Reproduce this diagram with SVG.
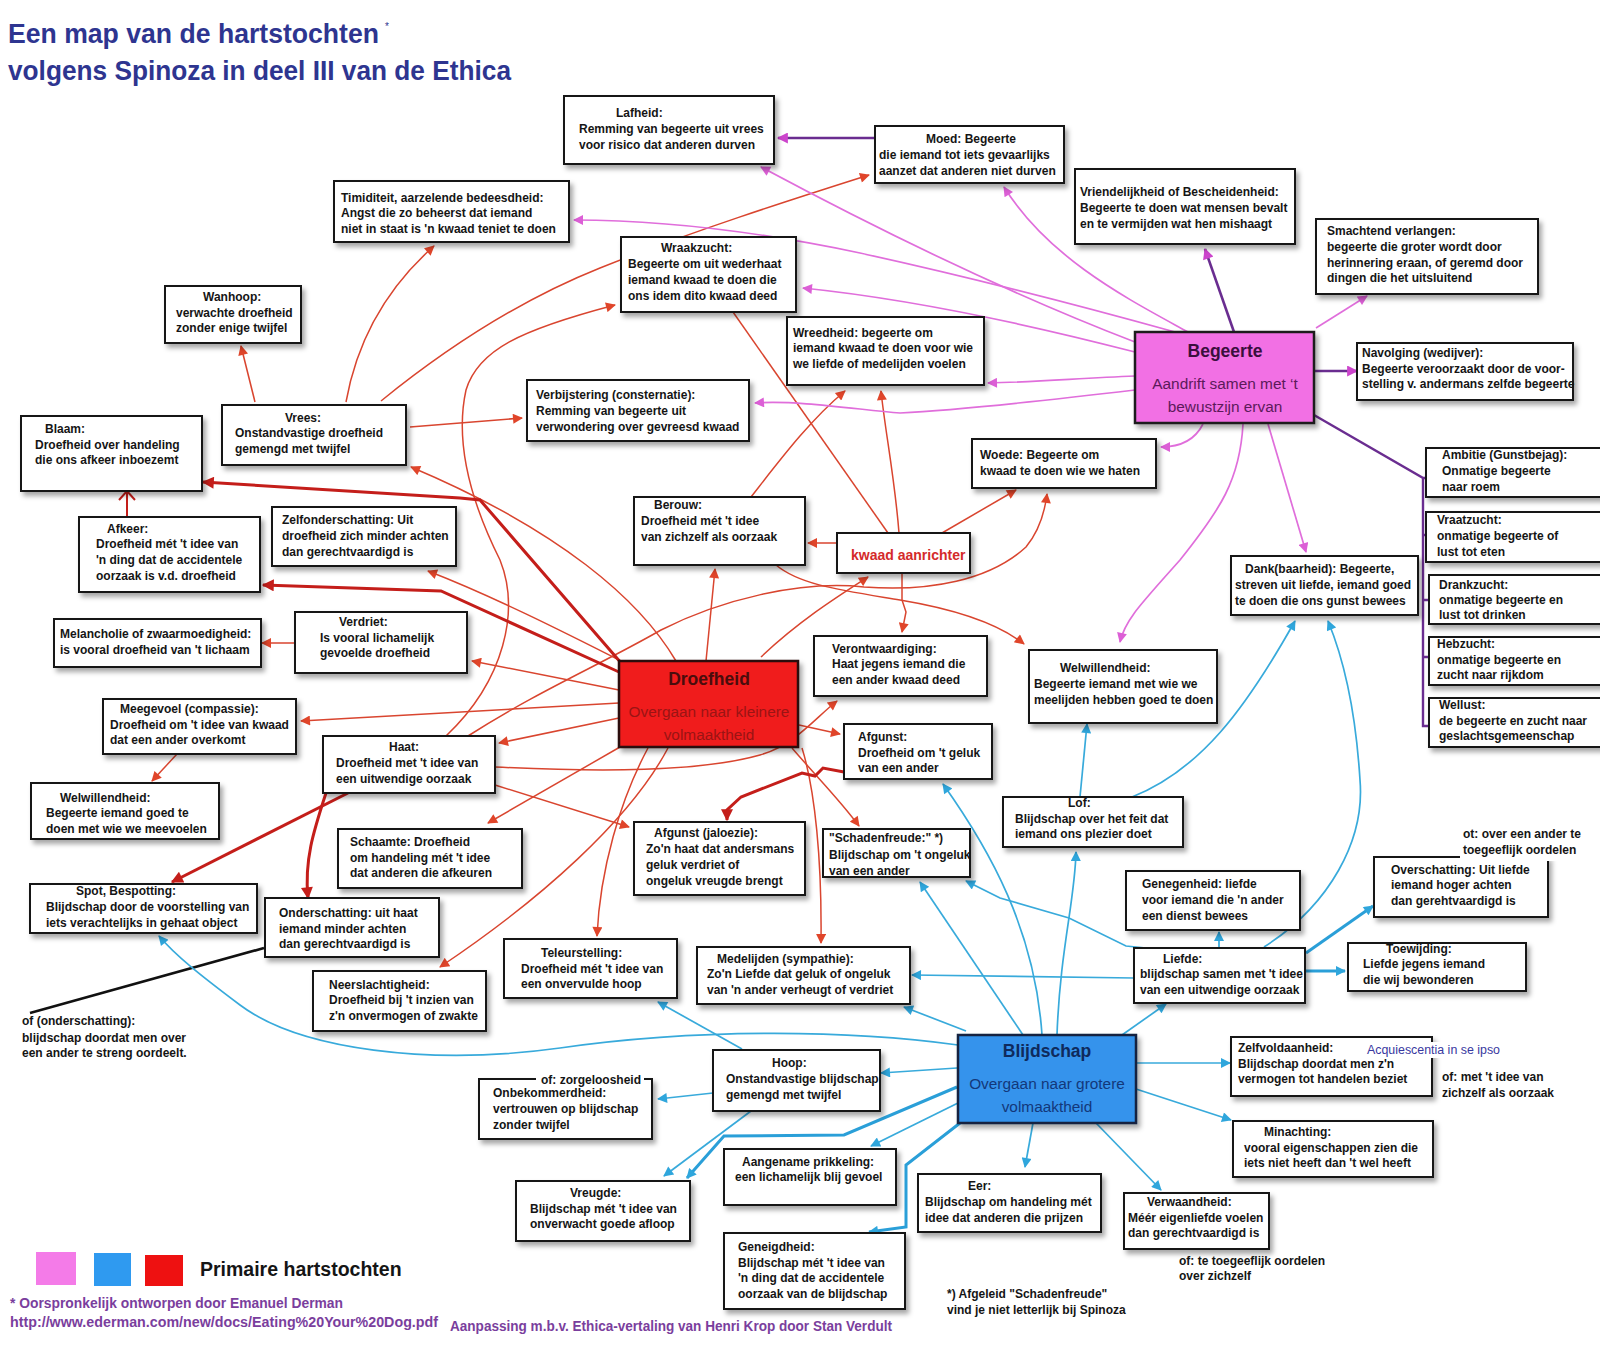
<svg xmlns="http://www.w3.org/2000/svg" width="1600" height="1347" viewBox="0 0 1600 1347">
<defs>
<style>
.box{fill:#fff;stroke:#151515;stroke-width:2;filter:url(#sh)}
.t{font-family:"Liberation Sans",Arial,sans-serif;font-size:12px;font-weight:bold;fill:#151515}
.r{stroke:#D9452F;stroke-width:1.5;fill:none;marker-end:url(#ar)}
.rt{stroke:#C41E1A;stroke-width:3;fill:none;marker-end:url(#ard)}
.b{stroke:#38AADB;stroke-width:1.7;fill:none;marker-end:url(#ab)}
.bt{stroke:#2A9FD8;stroke-width:3;fill:none;marker-end:url(#ab)}
.p{stroke:#E06EDB;stroke-width:1.7;fill:none;marker-end:url(#ap)}
.pu{stroke:#6A2D90;stroke-width:2.6;fill:none;marker-end:url(#apu)}
.big{font-family:"Liberation Sans",Arial,sans-serif;font-weight:bold;font-size:17.5px;text-anchor:middle}
.sub{font-family:"Liberation Sans",Arial,sans-serif;font-size:15.4px;text-anchor:middle}
.foot{font-family:"Liberation Sans",Arial,sans-serif;font-size:14px;font-weight:bold;fill:#7A3E9D}
</style>
<filter id="sh" x="-10%" y="-10%" width="130%" height="145%">
<feDropShadow dx="3" dy="4" stdDeviation="2.5" flood-color="#000" flood-opacity="0.35"/>
</filter>
<marker id="ar" viewBox="0 0 10 10" refX="9" refY="5" markerWidth="12" markerHeight="10" markerUnits="userSpaceOnUse" orient="auto"><path d="M0,0 L10,5 L0,10 z" fill="#E0452A"/></marker>
<marker id="ard" viewBox="0 0 10 10" refX="9" refY="5" markerWidth="14" markerHeight="12" markerUnits="userSpaceOnUse" orient="auto"><path d="M0,0 L10,5 L0,10 z" fill="#C41E1A"/></marker>
<marker id="ab" viewBox="0 0 10 10" refX="9" refY="5" markerWidth="12" markerHeight="10" markerUnits="userSpaceOnUse" orient="auto"><path d="M0,0 L10,5 L0,10 z" fill="#2FA6DC"/></marker>
<marker id="ap" viewBox="0 0 10 10" refX="9" refY="5" markerWidth="12" markerHeight="10" markerUnits="userSpaceOnUse" orient="auto"><path d="M0,0 L10,5 L0,10 z" fill="#DC5FD6"/></marker>
<marker id="apu" viewBox="0 0 10 10" refX="9" refY="5" markerWidth="13" markerHeight="11" markerUnits="userSpaceOnUse" orient="auto"><path d="M0,0 L10,5 L0,10 z" fill="#CC44CC"/></marker>
</defs>
<rect x="0" y="0" width="1600" height="1347" fill="#fff"/>

<g id="title">
<text x="8" y="43" font-family="Liberation Sans,Arial,sans-serif" font-weight="bold" font-size="27" fill="#2E3590" textLength="371" lengthAdjust="spacingAndGlyphs">Een map van de hartstochten</text>
<text x="385" y="30" font-family="Liberation Sans,Arial,sans-serif" font-size="10" fill="#2E3590">*</text>
<text x="8" y="80" font-family="Liberation Sans,Arial,sans-serif" font-weight="bold" font-size="27" fill="#2E3590" textLength="503" lengthAdjust="spacingAndGlyphs">volgens Spinoza in deel III van de Ethica</text>
</g>

<g id="connectors">
<!-- red thin -->
<path class="r" d="M255,402 L241,346"/>
<path class="r" d="M346,402 C358,335 390,285 434,246"/>
<path class="r" d="M381,401 C450,345 520,300 600,268 C690,232 790,200 869,175"/>
<path class="r" d="M410,427 L522,418"/>
<path class="r" d="M446,736 C505,680 520,610 500,560 C470,500 455,440 466,390 C478,350 520,330 615,305"/>
<path class="r" d="M676,661 C640,600 560,530 411,467"/>
<path class="r" d="M625,663 C560,630 490,595 428,571"/>
<path class="r" d="M619,690 L472,661"/>
<path class="r" d="M619,703 L301,721"/>
<path class="r" d="M619,718 L499,743"/>
<path class="r" d="M620,747 L488,823"/>
<path class="r" d="M648,748 C620,800 600,870 597,936"/>
<path class="r" d="M668,748 C630,820 540,900 440,967"/>
<path class="r" d="M495,785 L629,827"/>
<path class="r" d="M495,767 C600,772 700,772 760,755 C795,745 815,718 837,701"/>
<path class="r" d="M799,725 L840,734"/>
<path class="r" d="M792,748 C815,775 840,800 859,826"/>
<path class="r" d="M802,748 C815,790 822,860 821,943"/>
<path class="r" d="M706,661 L715,569"/>
<path class="r" d="M761,657 C800,620 840,595 868,577"/>
<path class="r" d="M468,736 C540,690 600,665 661,630 C720,600 800,580 864,587 C930,592 990,580 1026,547 C1040,530 1045,510 1047,494"/>
<path class="r" d="M751,497 C780,460 810,420 845,391"/>
<path class="r" d="M899,533 C895,480 885,430 881,391"/>
<path d="M733,312 L888,533" stroke="#D9452F" stroke-width="1.5" fill="none"/>
<path class="r" d="M837,543 L808,543"/>
<path class="r" d="M942,533 L1016,490"/>
<path class="r" d="M902,573 L902,600 L906,612 L902,632"/>
<path class="r" d="M776,565 C800,585 840,590 900,600 C960,610 1000,625 1024,644"/>
<path class="r" d="M295,643 L262,643"/>
<path class="r" d="M177,754 L152,781"/>
<path d="M127,517 L127,492 M119,500 L127,491 L135,500" stroke="#C41E1A" stroke-width="2" fill="none"/>
<!-- red thick -->
<path class="rt" d="M622,664 L480,500 L460,498 L203,482"/>
<path class="rt" d="M619,672 L441,591 L263,585"/>
<path class="rt" d="M348,793 L172,882"/>
<path class="rt" d="M326,793 C314,830 304,860 308,898"/>
<path class="rt" d="M844,772 L823,768 L815,776 L802,773 L741,797 L727,810 L727,820"/>
<!-- black -->
<path d="M264,948 L30,1013" stroke="#111" stroke-width="2.6" fill="none"/>
<!-- pink -->
<path class="p" d="M1188,332 C1130,300 1050,260 1004,187"/>
<path class="p" d="M1175,332 C1060,300 960,275 860,253 C760,232 660,220 574,220"/>
<path class="p" d="M1135,342 C1000,290 860,220 761,167"/>
<path class="p" d="M1135,352 C1050,330 920,300 803,288"/>
<path class="p" d="M1135,376 C1080,378 1040,382 988,383"/>
<path class="p" d="M1135,390 C1050,400 960,410 900,413 C860,410 800,400 755,403"/>
<path class="p" d="M1203,424 C1195,440 1180,447 1161,447"/>
<path class="p" d="M1268,424 L1306,552"/>
<path class="p" d="M1243,424 C1240,480 1220,510 1180,560 C1140,605 1125,620 1120,642"/>
<path class="p" d="M1316,328 L1367,296"/>
<!-- purple -->
<path class="pu" d="M875,138 L778,138"/>
<path class="pu" d="M1234,332 L1205,249"/>
<path class="pu" d="M1314,371 L1357,371" stroke-width="2"/>
<path d="M1314,415 L1423,478 L1423,726 L1429,726 M1423,478 L1427,478 M1423,535 L1428,535 M1423,600 L1429,600 M1423,657 L1429,657" stroke="#6A2D90" stroke-width="2.4" fill="none"/>
<!-- blue -->
<path class="b" d="M958,1045 C850,1030 700,1028 560,1048 C430,1066 300,1050 240,1005 C200,975 175,955 159,936"/>
<path class="b" d="M957,1068 L881,1073"/>
<path class="b" d="M713,1093 L658,1099"/>
<path class="b" d="M742,1049 L658,1002"/>
<path class="b" d="M751,1111 L664,1176"/>
<path class="bt" d="M957,1087 L844,1135 L724,1136 L687,1178"/>
<path class="b" d="M958,1103 L871,1146"/>
<path class="bt" d="M960,1123 L906,1165 L906,1227 L869,1232"/>
<path class="b" d="M1033,1123 L1025,1167"/>
<path class="b" d="M1096,1123 L1161,1190"/>
<path class="b" d="M1136,1089 L1231,1120"/>
<path class="b" d="M1136,1063 L1230,1063"/>
<path class="b" d="M1122,1035 L1166,1004"/>
<path class="b" d="M1057,1035 C1060,950 1075,900 1076,852"/>
<path class="b" d="M1042,1035 C1035,930 990,850 943,784"/>
<path class="b" d="M1023,1035 L920,882"/>
<path class="b" d="M966,1031 L904,1007"/>
<path class="b" d="M1134,978 L912,975"/>
<path class="b" d="M1146,948 L1126,946 L1069,918 L1000,898 L966,881"/>
<path class="b" d="M1219,948 L1219,932"/>
<path class="bt" d="M1306,953 L1373,906"/>
<path class="bt" d="M1305,971 L1345,971"/>
<path class="b" d="M1264,947 C1330,905 1365,840 1360,780 C1355,700 1340,650 1328,621"/>
<path class="b" d="M1132,797 C1200,770 1245,710 1295,621"/>
<path class="b" d="M1080,797 L1087,724"/>
</g>

<g id="lafheid"><rect class="box" x="564" y="96" width="210" height="68"/><text class="t"><tspan x="616" y="117">Lafheid:</tspan><tspan x="579" y="133">Remming van begeerte uit vrees</tspan><tspan x="579" y="149">voor risico dat anderen durven</tspan></text></g>
<g id="moed"><rect class="box" x="875" y="126" width="189" height="57"/><text class="t"><tspan x="926" y="143">Moed: Begeerte</tspan><tspan x="879" y="159">die iemand tot iets gevaarlijks</tspan><tspan x="879" y="175">aanzet dat anderen niet durven</tspan></text></g>
<g id="timiditeit"><rect class="box" x="334" y="181" width="235" height="61"/><text class="t"><tspan x="341" y="202">Timiditeit, aarzelende bedeesdheid:</tspan><tspan x="341" y="217">Angst die zo beheerst dat iemand</tspan><tspan x="341" y="233">niet in staat is 'n kwaad teniet te doen</tspan></text></g>
<g id="vriendelijkheid"><rect class="box" x="1075" y="169" width="220" height="75"/><text class="t"><tspan x="1080" y="196">Vriendelijkheid of Bescheidenheid:</tspan><tspan x="1080" y="212">Begeerte te doen wat mensen bevalt</tspan><tspan x="1080" y="228">en te vermijden wat hen mishaagt</tspan></text></g>
<g id="wraakzucht"><rect class="box" x="621" y="237" width="175" height="75"/><text class="t"><tspan x="661" y="252">Wraakzucht:</tspan><tspan x="628" y="268">Begeerte om uit wederhaat</tspan><tspan x="628" y="284">iemand kwaad te doen die</tspan><tspan x="628" y="300">ons idem dito kwaad deed</tspan></text></g>
<g id="smachtend"><rect class="box" x="1316" y="219" width="222" height="75"/><text class="t"><tspan x="1327" y="235">Smachtend verlangen:</tspan><tspan x="1327" y="251">begeerte die groter wordt door</tspan><tspan x="1327" y="267">herinnering eraan, of geremd door</tspan><tspan x="1327" y="282">dingen die het uitsluitend</tspan></text></g>
<g id="wanhoop"><rect class="box" x="165" y="286" width="136" height="57"/><text class="t"><tspan x="203" y="301">Wanhoop:</tspan><tspan x="176" y="317">verwachte droefheid</tspan><tspan x="176" y="332">zonder enige twijfel</tspan></text></g>
<g id="wreedheid"><rect class="box" x="787" y="317" width="197" height="68"/><text class="t"><tspan x="793" y="337">Wreedheid: begeerte om</tspan><tspan x="793" y="352">iemand kwaad te doen voor wie</tspan><tspan x="793" y="368">we liefde of medelijden voelen</tspan></text></g>
<g id="begeerte"><rect x="1135" y="332" width="179" height="91" fill="#F270E4" stroke="#1a1a1a" stroke-width="2.5" filter="url(#sh)"/><text class="big" x="1225" y="357" fill="#3a0f3d" font-size="17">Begeerte</text><text class="sub" fill="#5c1a5a"><tspan x="1225" y="389">Aandrift samen met ‘t</tspan><tspan x="1225" y="412">bewustzijn ervan</tspan></text></g>
<g id="navolging"><rect class="box" x="1357" y="343" width="216" height="57"/><text class="t"><tspan x="1362" y="357">Navolging (wedijver):</tspan><tspan x="1362" y="373">Begeerte veroorzaakt door de voor-</tspan><tspan x="1362" y="388">stelling v. andermans zelfde begeerte</tspan></text></g>
<g id="verbijstering"><rect class="box" x="527" y="380" width="222" height="61"/><text class="t"><tspan x="536" y="399">Verbijstering (consternatie):</tspan><tspan x="536" y="415">Remming van begeerte uit</tspan><tspan x="536" y="431">verwondering over gevreesd kwaad</tspan></text></g>
<g id="vrees"><rect class="box" x="222" y="405" width="184" height="60"/><text class="t"><tspan x="285" y="422">Vrees:</tspan><tspan x="235" y="437">Onstandvastige droefheid</tspan><tspan x="235" y="453">gemengd met twijfel</tspan></text></g>
<g id="blaam"><rect class="box" x="21" y="416" width="181" height="75"/><text class="t"><tspan x="45" y="433">Blaam:</tspan><tspan x="35" y="449">Droefheid over handeling</tspan><tspan x="35" y="464">die ons afkeer inboezemt</tspan></text></g>
<g id="woede"><rect class="box" x="972" y="439" width="184" height="49"/><text class="t"><tspan x="980" y="459">Woede: Begeerte om</tspan><tspan x="980" y="475">kwaad te doen wie we haten</tspan></text></g>
<g id="ambitie"><rect class="box" x="1426" y="448" width="190" height="49"/><text class="t"><tspan x="1442" y="459">Ambitie (Gunstbejag):</tspan><tspan x="1442" y="475">Onmatige begeerte</tspan><tspan x="1442" y="491">naar roem</tspan></text></g>
<g id="vraatzucht"><rect class="box" x="1426" y="512" width="190" height="50"/><text class="t"><tspan x="1437" y="524">Vraatzucht:</tspan><tspan x="1437" y="540">onmatige begeerte of</tspan><tspan x="1437" y="556">lust tot eten</tspan></text></g>
<g id="drankzucht"><rect class="box" x="1429" y="575" width="190" height="49"/><text class="t"><tspan x="1439" y="589">Drankzucht:</tspan><tspan x="1439" y="604">onmatige begeerte en</tspan><tspan x="1439" y="619">lust tot drinken</tspan></text></g>
<g id="hebzucht"><rect class="box" x="1429" y="637" width="190" height="48"/><text class="t"><tspan x="1437" y="648">Hebzucht:</tspan><tspan x="1437" y="664">onmatige begeerte en</tspan><tspan x="1437" y="679">zucht naar rijkdom</tspan></text></g>
<g id="wellust"><rect class="box" x="1429" y="698" width="190" height="49"/><text class="t"><tspan x="1439" y="709">Wellust:</tspan><tspan x="1439" y="725">de begeerte en zucht naar</tspan><tspan x="1439" y="740">geslachtsgemeenschap</tspan></text></g>
<g id="berouw"><rect class="box" x="634" y="497" width="171" height="68"/><text class="t"><tspan x="654" y="509">Berouw:</tspan><tspan x="641" y="525">Droefheid mét 't idee</tspan><tspan x="641" y="541">van zichzelf als oorzaak</tspan></text></g>
<g id="zelfonderschatting"><rect class="box" x="272" y="507" width="184" height="59"/><text class="t"><tspan x="282" y="524">Zelfonderschatting: Uit</tspan><tspan x="282" y="540">droefheid zich minder achten</tspan><tspan x="282" y="556">dan gerechtvaardigd is</tspan></text></g>
<g id="afkeer"><rect class="box" x="79" y="517" width="181" height="75"/><text class="t"><tspan x="107" y="533">Afkeer:</tspan><tspan x="96" y="548">Droefheid mét 't idee van</tspan><tspan x="96" y="564">'n ding dat de accidentele</tspan><tspan x="96" y="580">oorzaak is v.d. droefheid</tspan></text></g>
<g id="kwaad-aanrichter"><rect class="box" x="837" y="533" width="133" height="40"/><text x="851" y="560" font-family="Liberation Sans,Arial,sans-serif" font-size="14" font-weight="bold" fill="#D42A2A">kwaad aanrichter</text></g>
<g id="dank"><rect class="box" x="1231" y="556" width="187" height="59"/><text class="t"><tspan x="1245" y="573">Dank(baarheid): Begeerte,</tspan><tspan x="1235" y="589">streven uit liefde, iemand goed</tspan><tspan x="1235" y="605">te doen die ons gunst bewees</tspan></text></g>
<g id="melancholie"><rect class="box" x="54" y="619" width="207" height="48"/><text class="t"><tspan x="60" y="638">Melancholie of zwaarmoedigheid:</tspan><tspan x="60" y="654">is vooral droefheid van 't lichaam</tspan></text></g>
<g id="verdriet"><rect class="box" x="295" y="612" width="172" height="61"/><text class="t"><tspan x="339" y="626">Verdriet:</tspan><tspan x="320" y="642">Is vooral lichamelijk</tspan><tspan x="320" y="657">gevoelde droefheid</tspan></text></g>
<g id="verontwaardiging"><rect class="box" x="814" y="636" width="173" height="60"/><text class="t"><tspan x="832" y="653">Verontwaardiging:</tspan><tspan x="832" y="668">Haat jegens iemand die</tspan><tspan x="832" y="684">een ander kwaad deed</tspan></text></g>
<g id="welwillendheid-meelijden"><rect class="box" x="1029" y="650" width="188" height="73"/><text class="t"><tspan x="1060" y="672">Welwillendheid:</tspan><tspan x="1034" y="688">Begeerte iemand met wie we</tspan><tspan x="1034" y="704">meelijden hebben goed te doen</tspan></text></g>
<g id="droefheid"><rect x="619" y="661" width="179" height="86" fill="#F01B1B" stroke="#2a0a0a" stroke-width="2.5" filter="url(#sh)"/><text class="big" x="709" y="685" fill="#4a0d0d">Droefheid</text><text class="sub" fill="#9A1414"><tspan x="709" y="717">Overgaan naar kleinere</tspan><tspan x="709" y="740">volmaaktheid</tspan></text></g>
<g id="meegevoel"><rect class="box" x="103" y="699" width="193" height="55"/><text class="t"><tspan x="120" y="713">Meegevoel (compassie):</tspan><tspan x="110" y="729">Droefheid om 't idee van kwaad</tspan><tspan x="110" y="744">dat een ander overkomt</tspan></text></g>
<g id="haat"><rect class="box" x="323" y="736" width="172" height="57"/><text class="t"><tspan x="389" y="751">Haat:</tspan><tspan x="336" y="767">Droefheid met 't idee van</tspan><tspan x="336" y="783">een uitwendige oorzaak</tspan></text></g>
<g id="afgunst"><rect class="box" x="844" y="724" width="148" height="55"/><text class="t"><tspan x="858" y="741">Afgunst:</tspan><tspan x="858" y="757">Droefheid om 't geluk</tspan><tspan x="858" y="772">van een ander</tspan></text></g>
<g id="welwillendheid-meevoelen"><rect class="box" x="31" y="783" width="188" height="56"/><text class="t"><tspan x="60" y="802">Welwillendheid:</tspan><tspan x="46" y="817">Begeerte iemand goed te</tspan><tspan x="46" y="833">doen met wie we meevoelen</tspan></text></g>
<g id="lof"><rect class="box" x="1003" y="797" width="180" height="50"/><text class="t"><tspan x="1068" y="807">Lof:</tspan><tspan x="1015" y="823">Blijdschap over het feit dat</tspan><tspan x="1015" y="838">iemand ons plezier doet</tspan></text></g>
<g id="afgunst-jaloezie"><rect class="box" x="634" y="822" width="171" height="73"/><text class="t"><tspan x="654" y="837">Afgunst (jaloezie):</tspan><tspan x="646" y="853">Zo'n haat dat andersmans</tspan><tspan x="646" y="869">geluk verdriet of</tspan><tspan x="646" y="885">ongeluk vreugde brengt</tspan></text></g>
<g id="schaamte"><rect class="box" x="338" y="829" width="184" height="59"/><text class="t"><tspan x="350" y="846">Schaamte: Droefheid</tspan><tspan x="350" y="862">om handeling mét 't idee</tspan><tspan x="350" y="877">dat anderen die afkeuren</tspan></text></g>
<g id="schadenfreude"><rect class="box" x="823" y="829" width="147" height="48"/><text class="t"><tspan x="829" y="842">"Schadenfreude:" *)</tspan><tspan x="829" y="859">Blijdschap om 't ongeluk</tspan><tspan x="829" y="875">van een ander</tspan></text></g>
<g id="overschatting"><rect class="box" x="1374" y="857" width="174" height="60"/><rect x="1460" y="825" width="105" height="36" fill="#fff"/><text class="t"><tspan x="1463" y="838">ot: over een ander te</tspan><tspan x="1463" y="854">toegeeflijk oordelen</tspan><tspan x="1391" y="874">Overschatting: Uit liefde</tspan><tspan x="1391" y="889">iemand hoger achten</tspan><tspan x="1391" y="905">dan gerehtvaardigd is</tspan></text></g>
<g id="genegenheid"><rect class="box" x="1126" y="871" width="174" height="59"/><text class="t"><tspan x="1142" y="888">Genegenheid: liefde</tspan><tspan x="1142" y="904">voor iemand die 'n ander</tspan><tspan x="1142" y="920">een dienst bewees</tspan></text></g>
<g id="spot"><rect class="box" x="30" y="884" width="227" height="49"/><text class="t"><tspan x="76" y="895">Spot, Bespotting:</tspan><tspan x="46" y="911">Blijdschap door de voorstelling van</tspan><tspan x="46" y="927">iets verachtelijks in gehaat object</tspan></text></g>
<g id="onderschatting"><rect class="box" x="265" y="898" width="174" height="59"/><text class="t"><tspan x="279" y="917">Onderschatting: uit haat</tspan><tspan x="279" y="933">iemand minder achten</tspan><tspan x="279" y="948">dan gerechtvaardigd is</tspan></text></g>
<g id="teleurstelling"><rect class="box" x="504" y="939" width="173" height="59"/><text class="t"><tspan x="541" y="957">Teleurstelling:</tspan><tspan x="521" y="973">Droefheid mét 't idee van</tspan><tspan x="521" y="988">een onvervulde hoop</tspan></text></g>
<g id="toewijding"><rect class="box" x="1348" y="943" width="178" height="48"/><text class="t"><tspan x="1386" y="953">Toewijding:</tspan><tspan x="1363" y="968">Liefde jegens iemand</tspan><tspan x="1363" y="984">die wij bewonderen</tspan></text></g>
<g id="medelijden"><rect class="box" x="697" y="947" width="213" height="57"/><text class="t"><tspan x="717" y="963">Medelijden (sympathie):</tspan><tspan x="707" y="978">Zo'n Liefde dat geluk of ongeluk</tspan><tspan x="707" y="994">van 'n ander verheugt of verdriet</tspan></text></g>
<g id="liefde"><rect class="box" x="1134" y="948" width="171" height="55"/><text class="t"><tspan x="1163" y="963">Liefde:</tspan><tspan x="1140" y="978">blijdschap samen met 't idee</tspan><tspan x="1140" y="994">van een uitwendige oorzaak</tspan></text></g>
<g id="neerslachtigheid"><rect class="box" x="313" y="971" width="173" height="60"/><text class="t"><tspan x="329" y="989">Neerslachtigheid:</tspan><tspan x="329" y="1004">Droefheid bij 't inzien van</tspan><tspan x="329" y="1020">z'n onvermogen of zwakte</tspan></text></g>
<g id="onderschatting-of"><text class="t"><tspan x="22" y="1025">of (onderschatting):</tspan><tspan x="22" y="1042">blijdschap doordat men over</tspan><tspan x="22" y="1057">een ander te streng oordeelt.</tspan></text></g>
<g id="blijdschap"><rect x="958" y="1035" width="178" height="88" fill="#3593EC" stroke="#14243f" stroke-width="2.5" filter="url(#sh)"/><text class="big" x="1047" y="1057" fill="#0f2a5c">Blijdschap</text><text class="sub" fill="#13387a"><tspan x="1047" y="1089">Overgaan naar grotere</tspan><tspan x="1047" y="1112">volmaaktheid</tspan></text></g>
<g id="zelfvoldaanheid"><rect class="box" x="1231" y="1037" width="201" height="59"/><rect x="1364" y="1042" width="140" height="16" fill="#fff"/><text class="t"><tspan x="1238" y="1052">Zelfvoldaanheid:</tspan><tspan x="1238" y="1068">Blijdschap doordat men z'n</tspan><tspan x="1238" y="1083">vermogen tot handelen beziet</tspan></text><text x="1367" y="1054" font-family="Liberation Sans,Arial,sans-serif" font-size="12" fill="#3838A0" textLength="133" lengthAdjust="spacingAndGlyphs">Acquiescentia in se ipso</text><text class="t"><tspan x="1442" y="1081">of: met 't idee van</tspan><tspan x="1442" y="1097">zichzelf als oorzaak</tspan></text></g>
<g id="hoop"><rect class="box" x="713" y="1050" width="167" height="61"/><text class="t"><tspan x="772" y="1067">Hoop:</tspan><tspan x="726" y="1083">Onstandvastige blijdschap</tspan><tspan x="726" y="1099">gemengd met twijfel</tspan></text></g>
<g id="onbekommerdheid"><rect class="box" x="479" y="1079" width="173" height="60"/><rect x="536" y="1073" width="108" height="12" fill="#fff"/><text class="t"><tspan x="541" y="1084">of: zorgeloosheid</tspan><tspan x="493" y="1097">Onbekommerdheid:</tspan><tspan x="493" y="1113">vertrouwen op blijdschap</tspan><tspan x="493" y="1129">zonder twijfel</tspan></text></g>
<g id="minachting"><rect class="box" x="1233" y="1121" width="200" height="56"/><text class="t"><tspan x="1264" y="1136">Minachting:</tspan><tspan x="1244" y="1152">vooral eigenschappen zien die</tspan><tspan x="1244" y="1167">iets niet heeft dan 't wel heeft</tspan></text></g>
<g id="aangename-prikkeling"><rect class="box" x="724" y="1149" width="172" height="56"/><text class="t"><tspan x="742" y="1166">Aangename prikkeling:</tspan><tspan x="735" y="1181">een lichamelijk blij gevoel</tspan></text></g>
<g id="eer"><rect class="box" x="918" y="1174" width="183" height="58"/><text class="t"><tspan x="968" y="1190">Eer:</tspan><tspan x="925" y="1206">Blijdschap om handeling mét</tspan><tspan x="925" y="1222">idee dat anderen die prijzen</tspan></text></g>
<g id="vreugde"><rect class="box" x="516" y="1181" width="174" height="60"/><text class="t"><tspan x="570" y="1197">Vreugde:</tspan><tspan x="530" y="1213">Blijdschap mét 't idee van</tspan><tspan x="530" y="1228">onverwacht goede afloop</tspan></text></g>
<g id="verwaandheid"><rect class="box" x="1124" y="1193" width="145" height="56"/><text class="t"><tspan x="1147" y="1206">Verwaandheid:</tspan><tspan x="1128" y="1222">Méér eigenliefde voelen</tspan><tspan x="1128" y="1237">dan gerechtvaardigd is</tspan><tspan x="1179" y="1265">of: te toegeeflijk oordelen</tspan><tspan x="1179" y="1280">over zichzelf</tspan></text></g>
<g id="geneigdheid"><rect class="box" x="724" y="1233" width="181" height="76"/><text class="t"><tspan x="738" y="1251">Geneigdheid:</tspan><tspan x="738" y="1267">Blijdschap mét 't idee van</tspan><tspan x="738" y="1282">'n ding dat de accidentele</tspan><tspan x="738" y="1298">oorzaak van  de blijdschap</tspan></text></g>
<g id="notes"><text class="t"><tspan x="947" y="1298">*) Afgeleid "Schadenfreude"</tspan><tspan x="947" y="1314">vind je niet letterlijk bij Spinoza</tspan></text></g>

<g id="legend">
<rect x="36" y="1252" width="40" height="33" fill="#F47BE8"/>
<rect x="94" y="1253" width="37" height="33" fill="#2F9AF0"/>
<rect x="145" y="1255" width="38" height="31" fill="#EE1111"/>
<text x="200" y="1276" font-family="Liberation Sans,Arial,sans-serif" font-weight="bold" font-size="19.5" fill="#151515">Primaire hartstochten</text>
<text class="foot" x="10" y="1308" textLength="333" lengthAdjust="spacingAndGlyphs">* Oorspronkelijk ontworpen door Emanuel Derman</text>
<text class="foot" x="10" y="1327" textLength="428" lengthAdjust="spacingAndGlyphs">http://www.ederman.com/new/docs/Eating%20Your%20Dog.pdf</text>
<text class="foot" x="450" y="1331" textLength="442" lengthAdjust="spacingAndGlyphs" fill="#6B3FA0">Aanpassing m.b.v. Ethica-vertaling van Henri Krop door Stan Verdult</text>
</g>
</svg>
